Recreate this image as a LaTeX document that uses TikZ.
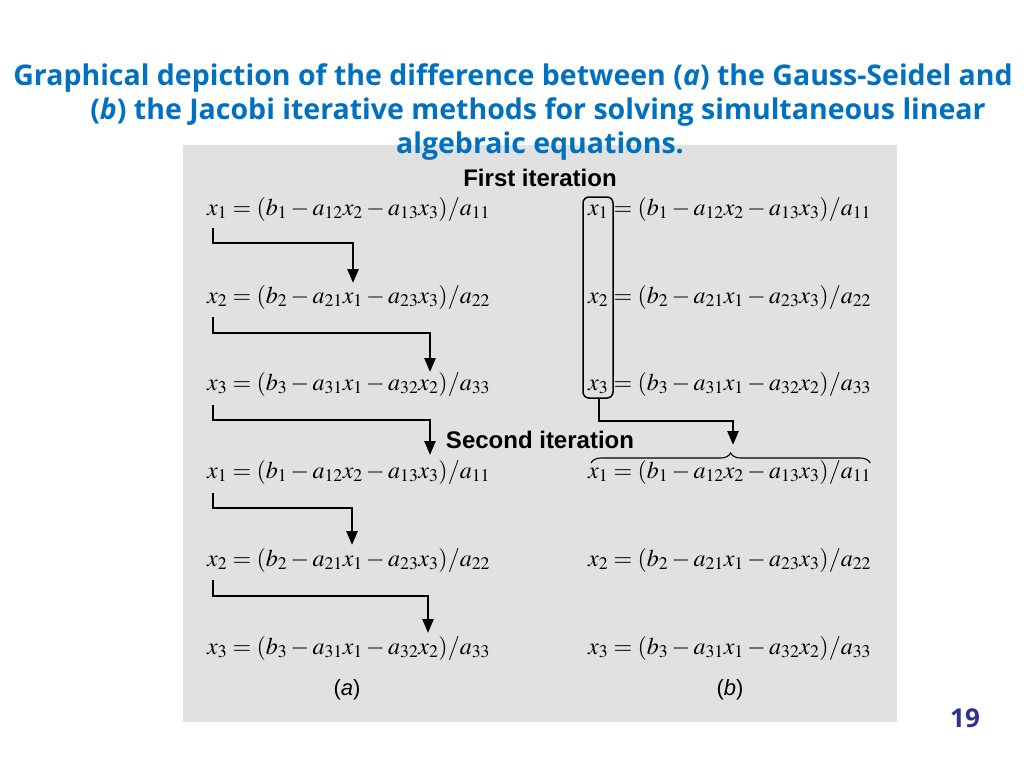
\documentclass[tikz,border=0pt]{standalone}
\usepackage{amsmath}
\usepackage{mathptmx}
\usepackage{fontspec}
\setmainfont{Liberation Serif}
\newfontfamily\titlefont{Open Sans}
\newfontfamily\labelfont{Liberation Sans}
\usetikzlibrary{calc}
\usetikzlibrary{positioning,arrows.meta,decorations.pathreplacing}

\definecolor{slidegray}{RGB}{225,225,225}
\definecolor{titleblue}{RGB}{0,112,192}
\definecolor{pagenavy}{RGB}{46,49,146}

\newcommand{\rowone}{$x_1 = (b_1 - a_{12}x_2 - a_{13}x_3)/a_{11}$}
\newcommand{\rowtwo}{$x_2 = (b_2 - a_{21}x_1 - a_{23}x_3)/a_{22}$}
\newcommand{\rowthree}{$x_3 = (b_3 - a_{31}x_1 - a_{32}x_2)/a_{33}$}

\tikzset{
  title/.style={text=titleblue,inner sep=0pt,font=\titlefont\bfseries\fontsize{28.5}{32}\selectfont},
  eq/.style={anchor=west,inner sep=0pt,font=\fontsize{24}{28}\selectfont},
  iter/.style={inner sep=0pt,font=\labelfont\bfseries\fontsize{24}{28}\selectfont},
  part/.style={inner sep=0pt,font=\labelfont\fontsize{22}{26}\selectfont},
  flow/.style={line width=2.6pt,-{Triangle[length=14pt,width=11pt]}},
}

\begin{document}
\begin{tikzpicture}[x=1pt,y=-1pt]
      \useasboundingbox (0,0) rectangle (1024,768);
      \fill[slidegray] (183,145) rectangle (897,722);
      \node[title] (t1) at (513,78) {Graphical depiction of the difference between (\textit{a}) the Gauss-Seidel and};
      \node[title] (t2) at (538,112) {(\textit{b}) the Jacobi iterative methods for solving simultaneous linear};
      \node[title] (t3) at (540,146) {algebraic equations.};
      \node[iter] (first) at (540,178) {First iteration};
      \node[iter] (second) at (540,440) {Second iteration};
      % Gauss-Seidel
      \node[eq] (ga1) at (207,209) {\rowone};
      \node[eq] (ga2) at (207,297) {\rowtwo};
      \node[eq] (ga3) at (207,384) {\rowthree};
      \node[eq] (gb1) at (207,472) {\rowone};
      \node[eq] (gb2) at (207,560) {\rowtwo};
      \node[eq] (gb3) at (207,648) {\rowthree};
      % Jacobi
      \node[eq] (ja1) at (588,209) {\rowone};
      \node[eq] (ja2) at (588,297) {\rowtwo};
      \node[eq] (ja3) at (588,384) {\rowthree};
      \node[eq] (jb1) at (588,472) {\rowone};
      \node[eq] (jb2) at (588,560) {\rowtwo};
      \node[eq] (jb3) at (588,648) {\rowthree};
      \draw[flow] ($(ga1.west)+(6,19)$) |- ($(ga1.west)+(146,34)$) -- ($(ga2.west)+(146,-14)$);
      \draw[flow] ($(ga2.west)+(6,20)$) |- ($(ga2.west)+(223,36)$) -- ($(ga3.west)+(223,-12)$);
      \draw[flow] ($(ga3.west)+(6,21)$) |- ($(ga3.west)+(223,36)$) -- ($(gb1.west)+(223,-17)$);
      \draw[flow] ($(gb1.west)+(6,21)$) |- ($(gb1.west)+(145,36)$) -- ($(gb2.west)+(145,-15)$);
      \draw[flow] ($(gb2.west)+(6,20)$) |- ($(gb2.west)+(221,36)$) -- ($(gb3.west)+(221,-15)$);
      \draw[line width=1.5pt,rounded corners=6pt] (583,197) rectangle (613,398);
      \coordinate (boxfoot) at (599,398);
      \draw[decorate,decoration={brace,amplitude=10pt},line width=1.1pt] ($(jb1.west)+(3,-9)$) -- ($(jb1.east)+(-1,-9)$);
      \draw[flow] (boxfoot) |- ($(jb1.west)+(145,-51)$) -- ($(jb1.west)+(145,-27)$);
      \node[part] (pa) at (347,690) {(\textit{a})};
      \node[part] (pb) at (730,690) {(\textit{b})};
      \node[text=pagenavy,inner sep=0pt,font=\titlefont\bfseries\fontsize{26}{30}\selectfont] (page) at (965,718) {19};
\end{tikzpicture}
\end{document}
